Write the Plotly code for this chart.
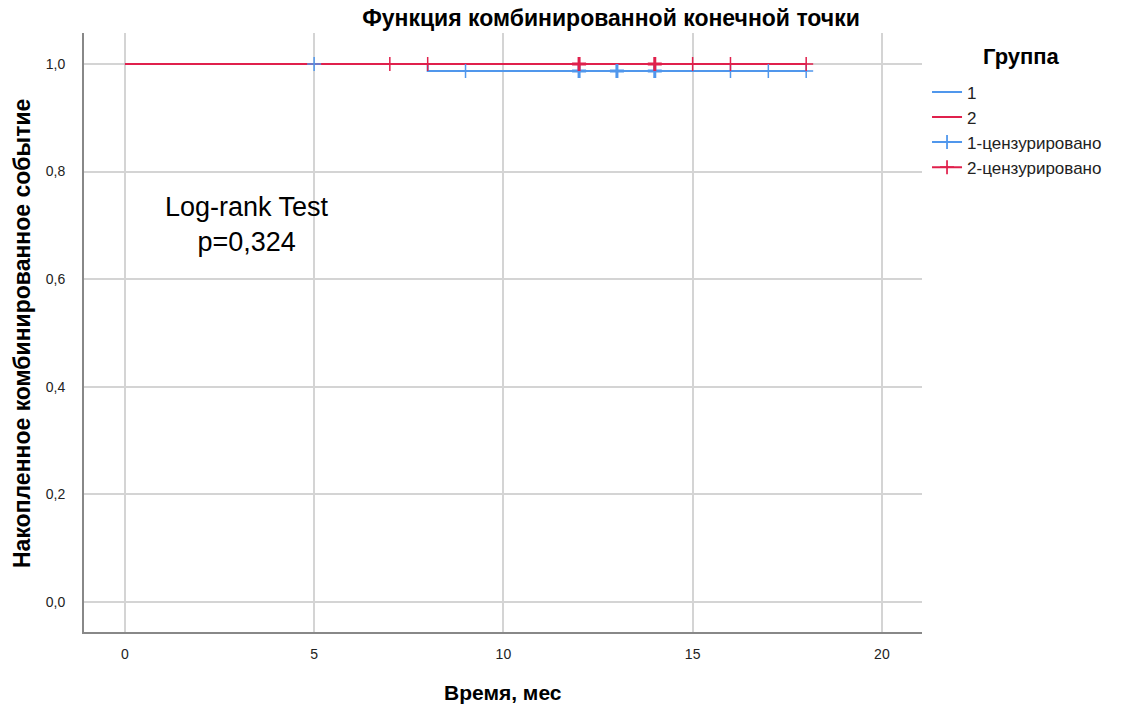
import plotly.graph_objects as go

# Step curves (cumulative proportion without event)
g1_time = [0, 8, 8, 18]
g1_surv = [1.0, 1.0, 0.987, 0.987]
g2_time = [0, 18]
g2_surv = [1.0, 1.0]

# Censored observations
g1_cens_time = [5, 9, 12, 13, 14, 16, 17, 18]
g1_cens_surv = [1.0, 0.987, 0.987, 0.987, 0.987, 0.987, 0.987, 0.987]
g1_cens_n = [1, 1, 3, 3, 3, 1, 1, 1]
g2_cens_time = [7, 8, 12, 14, 15, 16, 18]
g2_cens_surv = [1.0, 1.0, 1.0, 1.0, 1.0, 1.0, 1.0]
g2_cens_n = [1, 1, 3, 3, 1, 1, 1]

x_ticks = [0, 5, 10, 15, 20]
y_ticks = [0.0, 0.2, 0.4, 0.6, 0.8, 1.0]

BLUE = "#5097ec"
RED = "#e0204c"
FONT = "Liberation Sans, Arial, sans-serif"

def gapped(xs, ys):
    gx, gy = [], []
    for a, b in zip(xs, ys):
        gx += [a, None]
        gy += [b, None]
    return gx[:-1], gy[:-1]

fig = go.Figure()
fig.add_trace(go.Scatter(x=g1_time, y=g1_surv, mode="lines", name="1",
                         line=dict(color=BLUE, width=2)))
fig.add_trace(go.Scatter(x=g2_time, y=g2_surv, mode="lines", name="2",
                         line=dict(color=RED, width=2)))

for name, t, s, n, col in [("1-цензурировано", g1_cens_time, g1_cens_surv, g1_cens_n, BLUE),
                           ("2-цензурировано", g2_cens_time, g2_cens_surv, g2_cens_n, RED)]:
    gx, gy = gapped(t, s)
    widths = []
    for k in n:
        widths += [1.5 if k == 1 else 3, 1.5]
    widths = widths[:-1]
    fig.add_trace(go.Scatter(
        x=gx, y=gy, mode="lines+markers", name=name, connectgaps=False,
        line=dict(color=col, width=2),
        marker=dict(symbol="cross-thin", size=10, color=col,
                    line=dict(color=col, width=widths)),
    ))

fig.add_annotation(x=3.22, y=0.702, xref="x", yref="y",
                   text="Log-rank Test<br>p=0,324", showarrow=False,
                   font=dict(family=FONT, size=27, color="#000"), align="center")

fig.add_annotation(x=(1021 - 84) / 838, xref="paper", y=1 - (57 - 33) / 599, yref="paper",
                   xanchor="center", yanchor="middle",
                   text="<b>Группа</b>", showarrow=False,
                   font=dict(family=FONT, size=22, color="#000"))

# axis titles
fig.add_annotation(x=0.5, xref="paper", y=692, yref="paper",
                   text="<b>Время, мес</b>", showarrow=False, xanchor="center", yanchor="middle",
                   font=dict(family=FONT, size=21, color="#000"))
fig.add_annotation(x=22, y=0.5, xref="paper", yref="paper",
                   text="<b>Накопленное комбинированное событие</b>", showarrow=False,
                   textangle=-90, xanchor="center", yanchor="middle",
                   font=dict(family=FONT, size=23, color="#000"))
# fix positions in pixels after layout is known
pl, pr, pt, pb = 84, 201, 33, 79
pw, ph = 1123 - pl - pr, 711 - pt - pb
fig.layout.annotations[2].y = 1 - (692 - pt) / ph
fig.layout.annotations[3].x = (22 - pl) / pw
fig.layout.annotations[3].y = 1 - (334 - pt) / ph

fig.update_layout(
    width=1123, height=711,
    margin=dict(l=pl, r=pr, t=pt, b=pb, autoexpand=False),
    paper_bgcolor="white", plot_bgcolor="white",
    separators=", ",
    title=dict(text="<b>Функция комбинированной конечной точки</b>",
               x=611 / 1123, xanchor="center", y=1 - 18 / 711, yanchor="middle",
               font=dict(family=FONT, size=23, color="#000")),
    font=dict(family=FONT, color="#000"),
    legend=dict(x=1.006, xanchor="left", y=0.931, yanchor="top",
                font=dict(family=FONT, size=17, color="#222"),
                itemwidth=30, tracegroupgap=0, bgcolor="rgba(0,0,0,0)"),
    showlegend=True,
)

fig.update_xaxes(range=[-1.08, 21.06], tickvals=x_ticks, ticktext=[str(v) for v in x_ticks],
                 showgrid=True, gridcolor="#d4d4d4", gridwidth=1.5, zeroline=False,
                 showline=True, linecolor="#888888", linewidth=2, automargin=False,
                 ticks="", ticklabelstandoff=8,
                 tickfont=dict(family=FONT, size=14, color="#222"))
fig.update_yaxes(range=[-0.0558, 1.0576], tickvals=y_ticks, tickformat=".1f",
                 showgrid=True, gridcolor="#d4d4d4", gridwidth=1.5, zeroline=False,
                 showline=True, linecolor="#888888", linewidth=2, automargin=False,
                 ticks="", ticklabelstandoff=14,
                 tickfont=dict(family=FONT, size=14, color="#222"))

fig.write_html("out.html")
